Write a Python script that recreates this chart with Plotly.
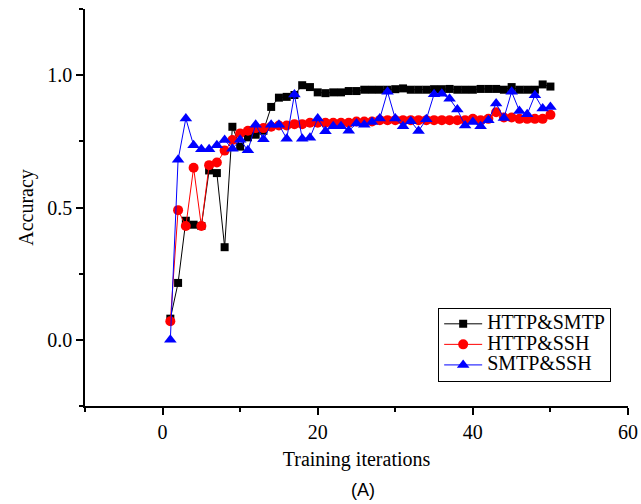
import plotly.graph_objects as go

iterations = list(range(1, 51))

http_smtp = [0.08, 0.215, 0.45, 0.435, 0.43, 0.64, 0.63, 0.35, 0.805, 0.73,
             0.765, 0.775, 0.79, 0.88, 0.915, 0.918, 0.925, 0.962, 0.955, 0.935,
             0.932, 0.935, 0.935, 0.94, 0.94, 0.945, 0.945, 0.945, 0.945, 0.947,
             0.95, 0.945, 0.945, 0.945, 0.947, 0.947, 0.948, 0.945, 0.945, 0.945,
             0.948, 0.948, 0.948, 0.945, 0.955, 0.945, 0.945, 0.945, 0.965, 0.957]

http_ssh = [0.07, 0.49, 0.43, 0.65, 0.43, 0.66, 0.67, 0.715, 0.755, 0.78,
            0.79, 0.80, 0.80, 0.805, 0.81, 0.81, 0.815, 0.815, 0.82, 0.82,
            0.82, 0.82, 0.82, 0.82, 0.825, 0.825, 0.825, 0.83, 0.83, 0.83,
            0.83, 0.83, 0.83, 0.83, 0.83, 0.83, 0.83, 0.83, 0.83, 0.835,
            0.83, 0.835, 0.86, 0.84, 0.84, 0.835, 0.835, 0.835, 0.835, 0.85]

smtp_ssh = [0.0, 0.68, 0.836, 0.735, 0.72, 0.72, 0.735, 0.755, 0.722, 0.756,
            0.716, 0.813, 0.758, 0.813, 0.813, 0.76, 0.927, 0.76, 0.764, 0.836,
            0.788, 0.807, 0.807, 0.79, 0.817, 0.813, 0.823, 0.836, 0.937, 0.836,
            0.807, 0.826, 0.789, 0.833, 0.928, 0.93, 0.911, 0.87, 0.81, 0.823,
            0.807, 0.83, 0.893, 0.838, 0.937, 0.865, 0.852, 0.924, 0.874, 0.88]

series_names = ["HTTP&amp;SMTP", "HTTP&amp;SSH", "SMTP&amp;SSH"]
x_ticks = [0, 20, 40, 60]
y_ticks = [0.0, 0.5, 1.0]
y_tick_text = ["0.0", "0.5", "1.0"]

serif = "Liberation Serif, Times New Roman, serif"


def legend_label(name):
    return "<span style='font-size:20px'>" + name + "</span>"


fig = go.Figure()
fig.add_trace(go.Scatter(x=iterations, y=http_smtp, name=legend_label(series_names[0]),
                         mode="lines+markers",
                         line=dict(color="black", width=1),
                         marker=dict(symbol="square", size=8, color="black")))
fig.add_trace(go.Scatter(x=iterations, y=http_ssh, name=legend_label(series_names[1]),
                         mode="lines+markers",
                         line=dict(color="red", width=1),
                         marker=dict(symbol="circle", size=10, color="red")))
fig.add_trace(go.Scatter(x=iterations, y=smtp_ssh, name=legend_label(series_names[2]),
                         mode="lines+markers",
                         line=dict(color="blue", width=1),
                         marker=dict(symbol="triangle-up", size=11, color="blue")))

fig.update_layout(
    width=641, height=504,
    margin=dict(l=85, r=13, t=9, b=98),
    plot_bgcolor="white", paper_bgcolor="white",
    font=dict(family=serif, size=20, color="black"),
    showlegend=True,
    legend=dict(x=0.969, y=0.248, xanchor="right", yanchor="top",
                bordercolor="black", borderwidth=1, bgcolor="white",
                font=dict(family=serif, size=13.5),
                tracegroupgap=0, itemwidth=38),
    xaxis=dict(range=[-10, 60], tickvals=x_ticks, ticktext=[str(v) for v in x_ticks],
               automargin=False,
               showline=True, linecolor="black", linewidth=1.5,
               ticks="outside", ticklen=7, tickwidth=1.5, tickcolor="black",
               minor=dict(dtick=10, tick0=0, ticks="outside", ticklen=4, tickwidth=1.5, tickcolor="black"),
               showgrid=False, zeroline=False,
               title=dict(text="Training iterations", font=dict(family=serif, size=20), standoff=10),
               tickfont=dict(family=serif, size=20)),
    yaxis=dict(range=[-0.25, 1.25], tickvals=y_ticks, ticktext=y_tick_text,
               automargin=False,
               showline=True, linecolor="black", linewidth=1.5,
               ticks="outside", ticklen=7, tickwidth=1.5, tickcolor="black",
               minor=dict(dtick=0.25, tick0=0, ticks="outside", ticklen=4, tickwidth=1.5, tickcolor="black"),
               showgrid=False, zeroline=False,
               title=dict(text="Accuracy", font=dict(family=serif, size=20), standoff=8),
               tickfont=dict(family=serif, size=20)),
    annotations=[dict(text="(A)", x=0.512, y=-0.2116, xref="paper", yref="paper",
                      xanchor="center", yanchor="middle", showarrow=False,
                      font=dict(family="Liberation Sans, Arial, sans-serif", size=18))],
)

fig.write_html("out.html")
